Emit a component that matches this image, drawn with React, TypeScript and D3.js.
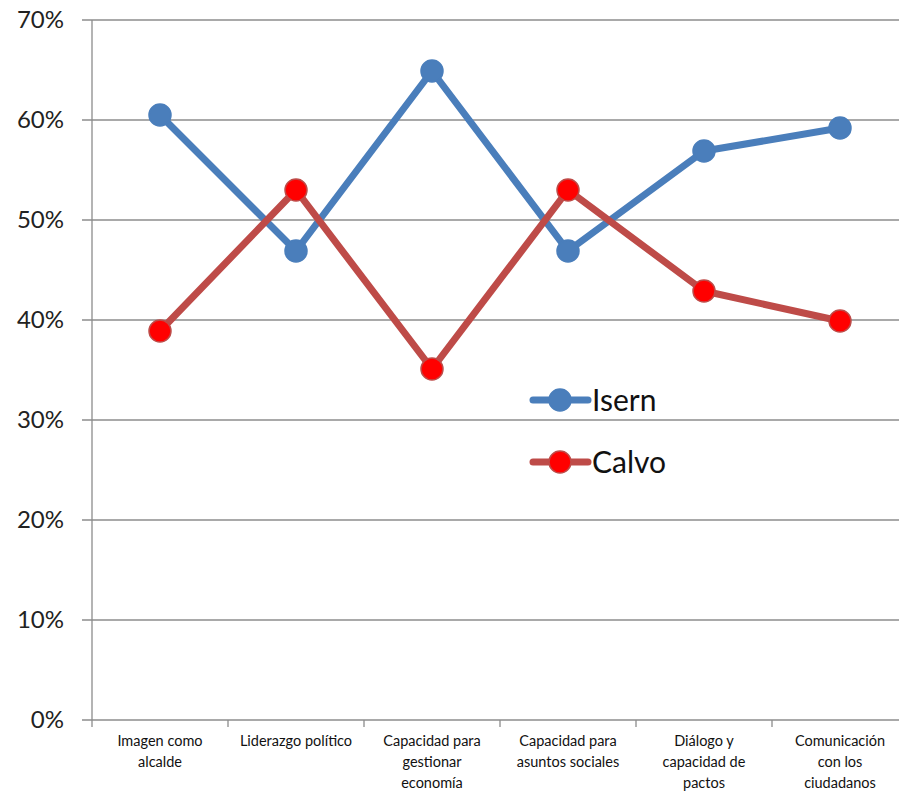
import React from 'react';
import * as d3 from 'd3';

const categories = [
  ['Imagen como', 'alcalde'],
  ['Liderazgo político'],
  ['Capacidad para', 'gestionar', 'economía'],
  ['Capacidad para', 'asuntos sociales'],
  ['Diálogo y', 'capacidad de', 'pactos'],
  ['Comunicación', 'con los', 'ciudadanos'],
];
const isern = [0.605, 0.469, 0.649, 0.469, 0.569, 0.592];
const calvo = [0.389, 0.53, 0.351, 0.53, 0.429, 0.399];
const yTicks = [0, 0.1, 0.2, 0.3, 0.4, 0.5, 0.6, 0.7];

const W = 899;
const H = 798;
const FONT = 'Lato, "Open Sans", sans-serif';

const series = [
  { name: 'Isern', values: isern, line: '#4A7EBB', fill: '#4A7EBB', stroke: '#4A7EBB' },
  { name: 'Calvo', values: calvo, line: '#BE4B48', fill: '#FF0000', stroke: '#BE4B48' },
];

const App: React.FC = () => {
  const keys = categories.map((c, i) => String(i));
  const x = d3.scaleBand().domain(keys).range([92, 908]);
  const y = d3.scaleLinear().domain([0, 0.7]).range([720, 20]);
  const cx = (i: number) => (x(String(i)) || 0) + x.bandwidth() / 2;
  const line = d3.line<number>().x((d, i) => cx(i)).y(d => y(d));
  const fmt = d3.format('.0%');

  return (
    <svg width={W} height={H} style={{ position: 'absolute', left: 0, top: 0, background: '#fff' }}>
      {/* grid + y ticks */}
      {yTicks.map(t => (
        <g key={t}>
          <line x1={82} x2={W} y1={y(t)} y2={y(t)} stroke="#8c8c8c" strokeWidth={1.3} />
          <text x={64} y={y(t)} dy="0.35em" textAnchor="end" fontFamily={FONT} fontSize={24} fill="#222">
            {fmt(t)}
          </text>
        </g>
      ))}
      {/* y axis */}
      <line x1={92} x2={92} y1={20} y2={720} stroke="#8c8c8c" strokeWidth={1.3} />
      {/* x tick marks */}
      {keys.map(k => (
        <line key={k} x1={x(k)} x2={x(k)} y1={720} y2={727} stroke="#8c8c8c" strokeWidth={1.3} />
      ))}
      {/* category labels */}
      {categories.map((lines, i) => (
        <text key={i} x={cx(i)} y={746} textAnchor="middle" fontFamily={FONT} fontSize={14.5} fill="#111">
          {lines.map((l, j) => (
            <tspan key={j} x={cx(i)} dy={j === 0 ? 0 : 21}>{l}</tspan>
          ))}
        </text>
      ))}
      {/* series */}
      {series.map(s => (
        <g key={s.name}>
          <path d={line(s.values) || ''} fill="none" stroke={s.line} strokeWidth={7} strokeLinejoin="round" />
          {s.values.map((v, i) => (
            <circle key={i} cx={cx(i)} cy={y(v)} r={11} fill={s.fill} stroke={s.stroke} strokeWidth={1.5} />
          ))}
        </g>
      ))}
      {/* legend */}
      {series.map((s, i) => {
        const ly = 400 + i * 62;
        return (
          <g key={s.name}>
            <line x1={533} x2={588} y1={ly} y2={ly} stroke={s.line} strokeWidth={7} strokeLinecap="round" />
            <circle cx={560} cy={ly} r={11} fill={s.fill} stroke={s.stroke} strokeWidth={1.5} />
            <text x={592} y={ly} dy="0.36em" fontFamily={FONT} fontSize={30} fill="#111">{s.name}</text>
          </g>
        );
      })}
    </svg>
  );
};

export default App;
